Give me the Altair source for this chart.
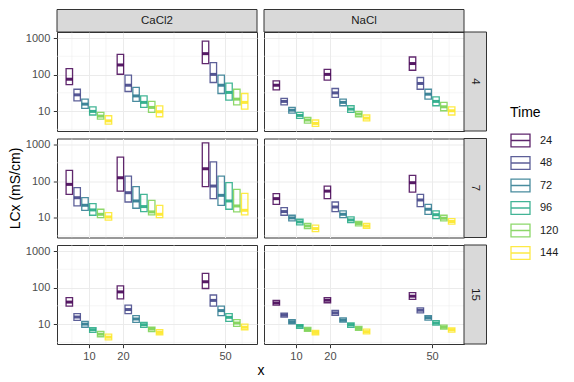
import altair as alt
import pandas as pd

salts = ["CaCl2", "NaCl"]
concs = [4, 7, 15]
groups = [10, 25, 50]
times = [24, 48, 72, 96, 120, 144]
x_major = [10, 20, 50]
x_minor = [5, 15, 35, 55]
y_major = [10, 100, 1000]
y_minor = [3.1623, 31.623, 316.23]
viridis = ["#440154", "#414487", "#2A788E", "#22A884", "#7AD151", "#FDE725"]

# each list: group 10 (6 times), group 25 (6 times), group 50 (6 times)
lo_CaCl2_4 = [53, 19, 11.8, 7.8, 6.05, 4.4, 102, 34.4, 18.4, 12.6, 9.2, 7, 200, 60.5, 30.3, 19.9, 14.8, 11.3]
mid_CaCl2_4 = [74.5, 27.8, 15.5, 9.8, 7.3, 5.4, 183, 51, 26, 17.3, 12.6, 9.6, 373, 101, 51, 32.4, 21.2, 17.3]
hi_CaCl2_4 = [145, 39.6, 21.2, 13.1, 9.2, 7.45, 357, 95.8, 44.3, 26, 18.4, 13.9, 824, 212, 95.8, 58, 39.6, 30.3]

lo_NaCl_4 = [38, 14.8, 8.8, 6.3, 4.7, 3.83, 70, 23.6, 14, 9.2, 7, 5.4, 131, 39.6, 21.2, 14, 10.2, 7.8]
mid_NaCl_4 = [51, 18.4, 10.6, 7.6, 5.7, 4.6, 101, 31.5, 17.3, 11.3, 8.3, 6.4, 200, 57, 29, 18.4, 13.1, 10.2]
hi_NaCl_4 = [67, 22.2, 12.6, 9.2, 6.7, 5.7, 139, 41.5, 21.2, 14, 9.8, 7.8, 302, 83, 39.6, 24.5, 17.3, 13.1]

lo_CaCl2_7 = [43, 20.8, 15.8, 11.6, 10, 8.5, 53, 26.7, 18, 14.6, 11.8, 10, 70, 33, 21.7, 16.9, 14.3, 11.8]
mid_CaCl2_7 = [81, 35, 21.7, 16.2, 12.3, 10.4, 123, 48, 28.5, 20, 14.3, 12.3, 217, 73, 40.6, 28.5, 20.8, 15.8]
hi_CaCl2_7 = [195, 66, 35, 24, 16.9, 13.7, 452, 137, 70, 43, 29.7, 21.7, 1110, 336, 137, 90, 59, 46]

lo_NaCl_7 = [23.1, 11.6, 8.1, 6.3, 5, 4.15, 33, 14.6, 10, 7.3, 5.9, 5.1, 50, 20, 12.3, 9.4, 8.1, 6.6]
mid_NaCl_7 = [33, 14.6, 9.8, 7.6, 5.9, 5, 53, 19.5, 12.3, 8.6, 6.9, 5.9, 90, 30.3, 16.9, 12, 9.6, 7.8]
hi_NaCl_7 = [45, 18.7, 11.6, 9, 6.9, 6.2, 73, 26.7, 15.2, 10.4, 7.9, 6.9, 143, 43, 23.1, 15.2, 11.6, 9.4]

lo_CaCl2_15 = [31, 12.6, 8.2, 5.9, 4.5, 3.7, 49, 19.4, 11.1, 8.1, 6.2, 5.1, 94, 31, 17, 11.9, 8.6, 7]
mid_CaCl2_15 = [40, 15.6, 10, 7, 5.3, 4.4, 76, 25, 13.8, 9.6, 7.3, 5.9, 144, 44.5, 23.4, 15.3, 10.7, 8.2]
hi_CaCl2_15 = [53, 19.4, 11.9, 8, 6.3, 5.3, 111, 33, 17, 11.1, 8.2, 7, 245, 62.5, 31, 19.4, 13.2, 10]

lo_NaCl_15 = [33, 15.6, 10.2, 7.7, 6.3, 5.1, 38.4, 17.4, 11.4, 8.2, 6.7, 5.4, 47.5, 20.2, 12.9, 9.4, 7.3, 6]
mid_NaCl_15 = [38, 17.8, 11.6, 8.8, 7.1, 5.9, 45, 20.2, 12.9, 9.6, 7.6, 6.2, 58, 24, 15, 10.7, 8.2, 7]
hi_NaCl_15 = [44.4, 20, 13.2, 9.6, 8.1, 6.7, 53, 23.5, 14.7, 10.7, 8.6, 7.3, 72.6, 27.8, 17, 12.4, 9.4, 7.9]

panels = {
    ("CaCl2", 4): (lo_CaCl2_4, mid_CaCl2_4, hi_CaCl2_4),
    ("NaCl", 4): (lo_NaCl_4, mid_NaCl_4, hi_NaCl_4),
    ("CaCl2", 7): (lo_CaCl2_7, mid_CaCl2_7, hi_CaCl2_7),
    ("NaCl", 7): (lo_NaCl_7, mid_NaCl_7, hi_NaCl_7),
    ("CaCl2", 15): (lo_CaCl2_15, mid_CaCl2_15, hi_CaCl2_15),
    ("NaCl", 15): (lo_NaCl_15, mid_NaCl_15, hi_NaCl_15),
}

rows = []
for (salt, conc), (lo, mid, hi) in panels.items():
    k = 0
    for g in groups:
        for t in times:
            rows.append({"Salt": salt, "Conc": conc, "grp": g, "Time": t,
                         "lo": lo[k], "mid": mid[k], "hi": hi[k]})
            k += 1
df = pd.DataFrame(rows)
xminor_df = pd.DataFrame({"v": x_minor})
yminor_df = pd.DataFrame({"v": y_minor})

FONT = "Liberation Sans"
W, H = 200, 99
STRIP = 22.5
GRID = "#EBEBEB"

xscale = alt.Scale(domain=[0.63, 59.37], nice=False, zero=False)
yscale = alt.Scale(type="log", domain=[2.85, 1460], nice=False)

legend = alt.Legend(
    title="Time",
    orient="none",
    legendX=453,
    legendY=74,
    symbolType="M-1,-0.68H1V0.68H-1Z M-1,0H1",
    symbolSize=361,
    symbolStrokeWidth=1.3,
    symbolOpacity=0.85,
    labelFontSize=11,
    labelFont=FONT,
    labelColor="#1A1A1A",
    labelOffset=9,
    titleFontSize=14,
    titleFont=FONT,
    titleFontWeight="normal",
    titleColor="black",
    titlePadding=10,
    rowPadding=2.5,
)
color = alt.Color("Time:O", scale=alt.Scale(domain=times, range=viridis), legend=legend)


def make_x_axis(show, title_show):
    kw = dict(values=x_major, format="d", labelPadding=2.5, titlePadding=2,
              labelOverlap=False, labelFlush=False, gridWidth=1)
    if not show:
        kw["labels"] = False
        kw["ticks"] = False
    if title_show:
        kw["titleX"] = W + 3.5
    return alt.Axis(**kw)


def make_y_axis(show):
    kw = dict(values=y_major, format="d", labelPadding=3.5, titlePadding=2.5,
              labelOverlap=False, gridWidth=1)
    if not show:
        kw["labels"] = False
        kw["ticks"] = False
    return alt.Axis(**kw)


def panel(salt, conc, ci, ri):
    pfilter = f"datum.Salt == '{salt}' && datum.Conc == {conc}"
    one = pfilter + " && datum.Time == 24 && datum.grp == 10"
    x_title = "x" if (ci == 0 and ri == len(concs) - 1) else ""
    y_title = "LCx (mS/cm)" if (ci == 0 and ri == 1) else ""
    xaxis = make_x_axis(ri == len(concs) - 1, x_title != "")
    yaxis = make_y_axis(ci == 0)

    xgrid = alt.Chart(xminor_df).mark_rule(color=GRID, strokeWidth=0.5).encode(
        x=alt.X("v:Q", scale=xscale, axis=xaxis, title=x_title)
    )
    ygrid = alt.Chart(yminor_df).mark_rule(color=GRID, strokeWidth=0.5).encode(
        y=alt.Y("v:Q", scale=yscale, axis=yaxis, title=y_title)
    )

    base = alt.Chart().transform_filter(pfilter).transform_calculate(
        xc="datum.grp + (indexof([24,48,72,96,120,144], datum.Time) - 2.5) * 2.3"
    ).transform_calculate(xlo="datum.xc - 0.95", xhi="datum.xc + 0.95")

    boxes = base.mark_rect(filled=False, strokeWidth=1.3, strokeOpacity=0.85).encode(
        x=alt.X("xlo:Q", scale=xscale, axis=xaxis, title=x_title),
        x2="xhi:Q",
        y=alt.Y("lo:Q", scale=yscale, axis=yaxis, title=y_title),
        y2="hi:Q",
        color=color,
    )
    meds = base.mark_rule(strokeWidth=3, strokeOpacity=0.9).encode(
        x="xlo:Q", x2="xhi:Q", y="mid:Q", color=color
    )
    layers = [xgrid, ygrid, boxes, meds]
    if ri == 0:
        layers.append(alt.Chart().transform_filter(one).mark_rect(
            fill="#D9D9D9", stroke="#333333", strokeWidth=1
        ).encode(x=alt.value(0), x2=alt.value(W), y=alt.value(-STRIP), y2=alt.value(0)))
        layers.append(alt.Chart().transform_filter(one).mark_text(
            font=FONT, fontSize=11.5, color="#1A1A1A"
        ).encode(x=alt.value(W / 2), y=alt.value(-STRIP / 2), text="Salt:N"))
    if ci == len(salts) - 1:
        layers.append(alt.Chart().transform_filter(one).mark_rect(
            fill="#D9D9D9", stroke="#333333", strokeWidth=1
        ).encode(x=alt.value(W), x2=alt.value(W + STRIP), y=alt.value(0), y2=alt.value(H)))
        layers.append(alt.Chart().transform_filter(one).mark_text(
            font=FONT, fontSize=11.5, color="#1A1A1A", angle=90
        ).encode(x=alt.value(W + STRIP / 2), y=alt.value(H / 2), text="Conc:N"))
    return alt.layer(*layers).properties(width=W, height=H)


cells = []
for ri, conc in enumerate(concs):
    for ci, salt in enumerate(salts):
        cells.append(panel(salt, conc, ci, ri))

chart = alt.concat(
    *cells, columns=2, data=df, spacing={"row": 7.5, "column": 7}, bounds="flush"
).properties(
    padding=0
).configure_view(
    stroke="#333333", strokeWidth=1
).configure_axis(
    labelFont=FONT, labelFontSize=11, labelColor="#4D4D4D",
    tickColor="#333333", tickSize=3.7, domain=False, gridColor=GRID,
    titleFont=FONT, titleFontSize=14, titleFontWeight="normal", titleColor="black",
)

chart.save("out.html", embed_options={"renderer": "svg", "actions": False})
